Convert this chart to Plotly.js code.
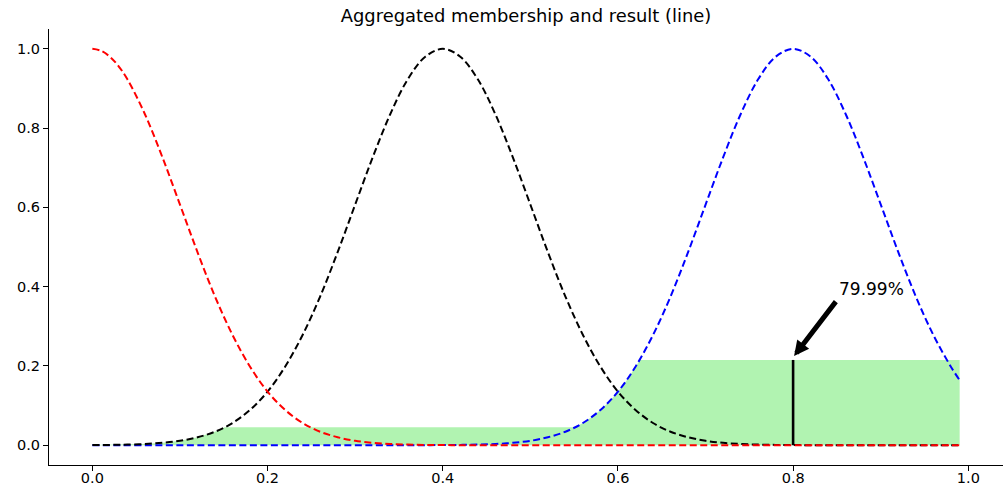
<!DOCTYPE html>
<html>
<head>
<meta charset="utf-8">
<script src="https://cdn.plot.ly/plotly-3.0.1.min.js"></script>
<style>html,body{margin:0;padding:0;background:#fff;}#chart{width:1007px;height:489px;}</style>
</head>
<body>
<div id="chart"></div>
<script>
// universe x
var xVals = [0,0.01,0.02,0.03,0.04,0.06,0.08,0.10,0.12,0.14,0.16,0.18,0.20,0.22,0.24,0.26,0.28,0.30,0.32,0.34,0.36,0.38,0.40,0.42,0.44,0.46,0.48,0.50,0.52,0.54,0.56,0.58,0.60,0.62,0.64,0.66,0.68,0.70,0.72,0.74,0.76,0.78,0.80,0.82,0.84,0.86,0.88,0.90,0.92,0.94,0.96,0.98,0.99];
// red membership (low)
var redMf = [1,0.995,0.980,0.956,0.923,0.835,0.726,0.607,0.487,0.375,0.278,0.198,0.135,0.089,0.056,0.034,0.020,0.011,0.006,0.003,0.0015,0.0007,0.0003,0,0,0,0,0,0,0,0,0,0,0,0,0,0,0,0,0,0,0,0,0,0,0,0,0,0,0,0,0,0];
// black membership (medium)
var blackMf = [0.0003,0.0005,0.0007,0.0011,0.0015,0.003,0.006,0.011,0.020,0.034,0.056,0.089,0.135,0.198,0.278,0.375,0.487,0.607,0.726,0.835,0.923,0.980,1,0.980,0.923,0.835,0.726,0.607,0.487,0.375,0.278,0.198,0.135,0.089,0.056,0.034,0.020,0.011,0.006,0.003,0.0015,0.0007,0.0003,0,0,0,0,0,0,0,0,0,0];
// blue membership (high)
var blueMf = [0,0,0,0,0,0,0,0,0,0,0,0,0,0,0,0,0,0,0,0,0,0,0.0003,0.0007,0.0015,0.003,0.006,0.011,0.020,0.034,0.056,0.089,0.135,0.198,0.278,0.375,0.487,0.607,0.726,0.835,0.923,0.980,1,0.980,0.923,0.835,0.726,0.607,0.487,0.375,0.278,0.198,0.164];
// aggregated membership (filled area)
var aggX = [0,0.02,0.04,0.06,0.08,0.10,0.12,0.14,0.151,0.551,0.56,0.57,0.58,0.59,0.60,0.61,0.62,0.625,0.99];
var aggY = [0.0003,0.0007,0.0015,0.003,0.006,0.011,0.020,0.034,0.045,0.045,0.056,0.071,0.089,0.110,0.135,0.164,0.198,0.215,0.215];
// defuzzified result
var resultX = [0.7999,0.7999];
var resultY = [0,0.215];
var resultLabel = "79.99%";
var tickVals = [0,0.2,0.4,0.6,0.8,1.0];
var tickText = ['0.0','0.2','0.4','0.6','0.8','1.0'];

var dash = {width:2, dash:'7px,3.5px'};
var traces = [
  {x:aggX, y:aggY, type:'scatter', mode:'lines', fill:'tozeroy', fillcolor:'rgba(144,238,144,0.7)', line:{width:0, color:'rgba(0,0,0,0)'}, hoverinfo:'skip'},
  {x:xVals, y:blueMf, type:'scatter', mode:'lines', line:Object.assign({color:'#0000ff', shape:'spline', smoothing:1}, dash)},
  {x:xVals, y:blackMf, type:'scatter', mode:'lines', line:Object.assign({color:'#000000', shape:'spline', smoothing:1}, dash)},
  {x:xVals, y:redMf, type:'scatter', mode:'lines', line:Object.assign({color:'#ff0000', shape:'spline', smoothing:1}, dash)},
  {x:resultX, y:resultY, type:'scatter', mode:'lines', line:{color:'#000000', width:2.6}}
];

var font = {family:'DejaVu Sans, sans-serif', color:'#000', size:14.5};
var range = [-0.0495,1.0395];
var layout = {
  width:1007, height:489,
  margin:{l:49, r:4, t:29, b:24, pad:0},
  paper_bgcolor:'#fff', plot_bgcolor:'#fff',
  showlegend:false,
  font:font,
  title:{text:'Aggregated membership and result (line)', font:{family:'DejaVu Sans, sans-serif', size:17.9, color:'#000'}, x:0.5, xref:'paper', y:0.967, yref:'container', yanchor:'middle'},
  xaxis:{range:range, tickvals:tickVals, ticktext:tickText, showgrid:false, zeroline:false, showline:true, linecolor:'#000', linewidth:1, ticks:'', tickfont:font},
  xaxis2:{range:range, overlaying:'x', side:'bottom', anchor:'y', tickvals:tickVals, showticklabels:false, showgrid:false, zeroline:false, showline:false, ticks:'outside', ticklen:5, tickwidth:1, tickcolor:'#000'},
  yaxis:{range:[-0.05,1.05], tickvals:tickVals, ticktext:tickText, showgrid:false, zeroline:false, showline:true, linecolor:'#000', linewidth:1, ticks:'outside', ticklen:5, tickwidth:1, tickcolor:'#000', tickfont:font},
  annotations:[
    {x:0.801, y:0.225, xref:'x', yref:'y', ax:0.850, ay:0.366, axref:'x', ayref:'y', text:'', showarrow:true, arrowhead:2, arrowwidth:5, arrowsize:0.6, arrowcolor:'#000', standoff:0, startstandoff:0},
    {x:0.889, y:0.394, xref:'x', yref:'y', text:resultLabel, showarrow:false, font:{family:'DejaVu Sans, sans-serif', size:17, color:'#000'}, xanchor:'center', yanchor:'middle'}
  ]
};
// invisible trace to activate the tick-mark axis
traces.push({x:[range[0]], y:[0], xaxis:'x2', type:'scatter', mode:'markers', marker:{opacity:0}, hoverinfo:'skip'});
Plotly.newPlot('chart', traces, layout, {displayModeBar:false, staticPlot:true});
</script>
</body>
</html>
